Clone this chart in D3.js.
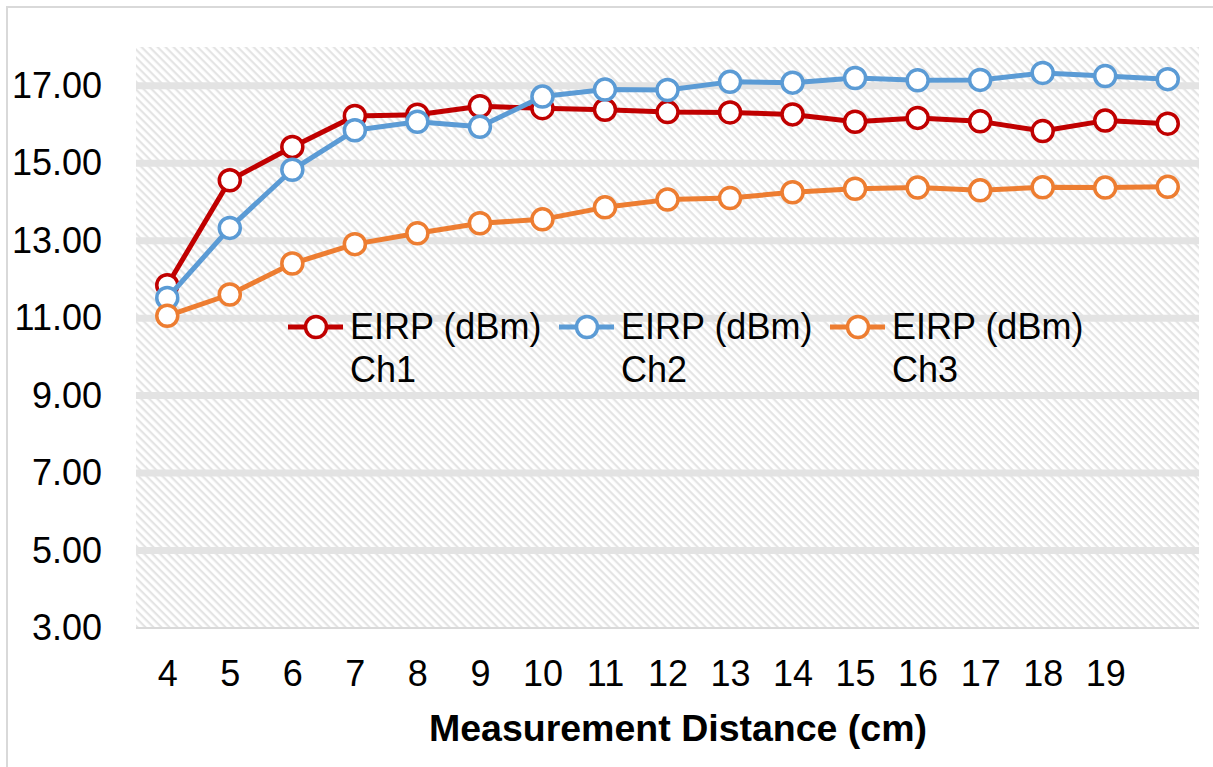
<!DOCTYPE html>
<html>
<head>
<meta charset="utf-8">
<script src="https://cdn.jsdelivr.net/npm/d3@7"></script>
<style>
  html, body { margin: 0; padding: 0; background: #fff; }
  svg { display: block; font-family: "Liberation Sans", Arial, sans-serif; }
</style>
</head>
<body>
<svg id="chart" width="1213" height="767"></svg>
<script>
// Measurement distances (cm); the last point has no printed label
const categories = [4, 5, 6, 7, 8, 9, 10, 11, 12, 13, 14, 15, 16, 17, 18, 19, 20];
const xTickLabels = ["4", "5", "6", "7", "8", "9", "10", "11", "12", "13", "14", "15", "16", "17", "18", "19", ""];
const yTicks = [3, 5, 7, 9, 11, 13, 15, 17];

// EIRP (dBm) per channel
const ch1 = [11.85, 14.56, 15.42, 16.22, 16.25, 16.47, 16.42, 16.38, 16.32, 16.31, 16.26, 16.07, 16.17, 16.08, 15.83, 16.10, 16.02];
const ch2 = [11.52, 13.33, 14.83, 15.85, 16.07, 15.94, 16.72, 16.90, 16.89, 17.10, 17.08, 17.20, 17.14, 17.15, 17.33, 17.25, 17.17];
const ch3 = [11.06, 11.61, 12.41, 12.91, 13.19, 13.45, 13.55, 13.86, 14.06, 14.10, 14.25, 14.34, 14.37, 14.30, 14.38, 14.37, 14.39];

const seriesNames = ["EIRP (dBm) Ch1", "EIRP (dBm) Ch2", "EIRP (dBm) Ch3"];
const seriesColors = ["#C00000", "#5B9BD5", "#ED7D31"];

const series = [ch1, ch2, ch3].map((vals, i) => ({
  name: seriesNames[i],
  color: seriesColors[i],
  points: vals.map((v, j) => ({ x: categories[j], y: v }))
}));

const svg = d3.select("#chart");
const plot = { left: 136, right: 1199, top: 47, bottom: 628 };

// Outer chart frame
svg.append("rect")
  .attr("x", 7).attr("y", 7).attr("width", 1400).attr("height", 1000)
  .attr("fill", "#fff").attr("stroke", "#d9d9d9").attr("stroke-width", 2);

// Light diagonal hatch used for the plot background
const defs = svg.append("defs");
const pat = defs.append("pattern")
  .attr("id", "hatch")
  .attr("patternUnits", "userSpaceOnUse")
  .attr("width", 8).attr("height", 5.66)
  .attr("patternTransform", "rotate(45)");
pat.append("rect").attr("width", 8).attr("height", 5.66).attr("fill", "#ffffff");
pat.append("rect").attr("y", 0).attr("width", 8).attr("height", 2.2).attr("fill", "#e4e4e4");

const x = d3.scalePoint()
  .domain(categories)
  .range([plot.left, plot.right])
  .padding(0.5);

const y = d3.scaleLinear()
  .domain([3, 18])
  .range([plot.bottom, plot.top]);

svg.append("rect")
  .attr("x", plot.left).attr("y", plot.top)
  .attr("width", plot.right - plot.left).attr("height", plot.bottom - plot.top)
  .attr("fill", "url(#hatch)");

// Horizontal gridlines
svg.append("g")
  .selectAll("line")
  .data(yTicks.filter(t => t > 3))
  .join("line")
  .attr("x1", plot.left).attr("x2", plot.right)
  .attr("y1", d => y(d)).attr("y2", d => y(d))
  .attr("stroke", "#e3e3e3").attr("stroke-width", 7);

// Y axis labels
const yAxis = d3.axisLeft(y)
  .tickValues(yTicks)
  .tickFormat(d3.format(".2f"))
  .tickSize(0)
  .tickPadding(34);
const gy = svg.append("g").attr("transform", `translate(${plot.left},0)`).call(yAxis);
gy.select(".domain").remove();
gy.selectAll("text")
  .attr("font-size", 36).attr("fill", "#000")
  .attr("font-family", "'Liberation Sans', Arial, sans-serif");

// X axis with category labels
const xAxis = d3.axisBottom(x)
  .tickFormat((d, i) => xTickLabels[i])
  .tickSize(0)
  .tickPadding(32);
const gx = svg.append("g").attr("transform", `translate(0,${plot.bottom})`).call(xAxis);
gx.select(".domain").remove();
gx.selectAll("text")
  .attr("font-size", 36).attr("fill", "#000")
  .attr("font-family", "'Liberation Sans', Arial, sans-serif");

svg.append("line")
  .attr("x1", plot.left).attr("x2", plot.right)
  .attr("y1", y(3)).attr("y2", y(3))
  .attr("stroke", "#d9d9d9").attr("stroke-width", 2);

// Axis title
svg.append("text")
  .attr("x", 678).attr("y", 741)
  .attr("text-anchor", "middle")
  .attr("font-size", 37.5).attr("font-weight", "bold").attr("fill", "#000")
  .text("Measurement Distance (cm)");

// Series lines and markers
const line = d3.line().x(d => x(d.x)).y(d => y(d.y));
const gs = svg.append("g").selectAll("g").data(series).join("g");
gs.append("path")
  .attr("d", d => line(d.points))
  .attr("fill", "none")
  .attr("stroke", d => d.color)
  .attr("stroke-width", 5)
  .attr("stroke-linejoin", "round");
gs.selectAll("circle")
  .data(d => d.points.map(p => ({ ...p, color: d.color })))
  .join("circle")
  .attr("cx", d => x(d.x)).attr("cy", d => y(d.y))
  .attr("r", 10.5)
  .attr("fill", "#fff")
  .attr("stroke", d => d.color)
  .attr("stroke-width", 3.5);

// Legend
const legendX = [288, 559, 830];
const lg = svg.append("g").selectAll("g").data(series).join("g")
  .attr("transform", (d, i) => `translate(${legendX[i]},327)`);
lg.append("line")
  .attr("x1", 0).attr("x2", 55)
  .attr("stroke", d => d.color).attr("stroke-width", 5);
lg.append("circle")
  .attr("cx", 28).attr("r", 10.5)
  .attr("fill", "#fff").attr("stroke", d => d.color).attr("stroke-width", 3.5);
const lt = lg.append("text")
  .attr("x", 62).attr("y", 12)
  .attr("font-size", 36).attr("fill", "#000");
lt.append("tspan").attr("x", 62).text(d => d.name.split(" Ch")[0]);
lt.append("tspan").attr("x", 62).attr("dy", 43).text(d => "Ch" + d.name.split(" Ch")[1]);
</script>
</body>
</html>
